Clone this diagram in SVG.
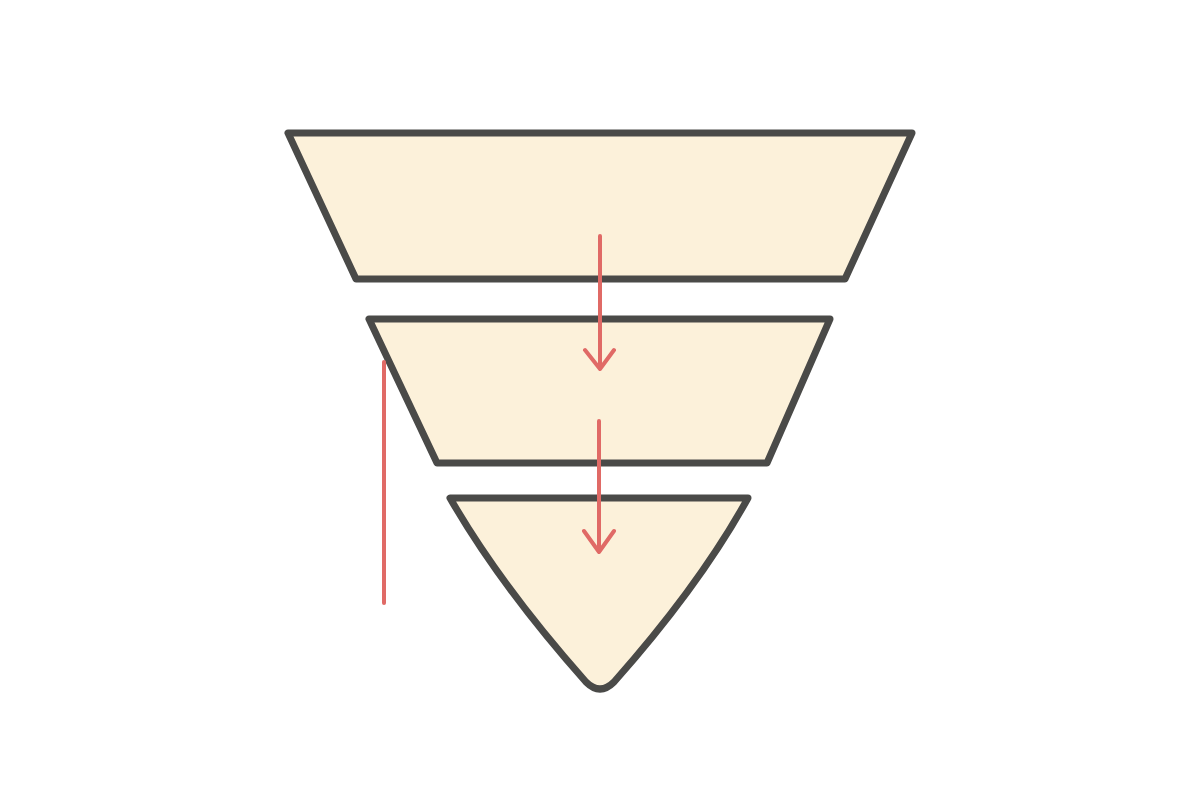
<svg xmlns="http://www.w3.org/2000/svg" width="1200" height="800" viewBox="0 0 1200 800">
  <defs>
    <style>
      .stage { fill: #fcf1da; stroke: #4a4a48; stroke-width: 7; stroke-linejoin: round; }
      .flow { fill: none; stroke: #e06a66; stroke-width: 4; stroke-linecap: round; stroke-linejoin: round; }
    </style>
  </defs>
  <rect width="1200" height="800" fill="#ffffff"/>
  <g id="stage-top">
    <path class="stage" d="M288,133 L912,133 L845,279 L356,279 Z"/>
  </g>
  <g id="stage-middle">
    <path class="stage" d="M369,319 L830,319 L767,463 L437,463 Z"/>
  </g>
  <g id="stage-bottom">
    <path class="stage" d="M450,498 L748,498 Q700,585 614,682 Q600,696 586,682 Q500,585 450,498 Z"/>
  </g>
  <g id="connectors">
    <path class="flow" d="M600,236 L600,369 M585,350 L600,369 L614,350"/>
    <path class="flow" d="M599,421 L599,552 M584,531 L599,552 L614,531"/>
    <path class="flow" d="M384,362 L384,603"/>
  </g>
</svg>
